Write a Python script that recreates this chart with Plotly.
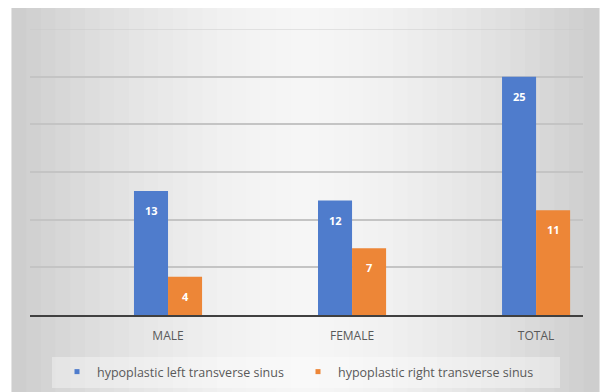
import plotly.graph_objects as go

categories = ["MALE", "FEMALE", "TOTAL"]
left_sinus = [13, 12, 25]
right_sinus = [4, 7, 11]
series_names = ["hypoplastic left transverse sinus", "hypoplastic right transverse sinus"]
grid_vals = [5, 10, 15, 20, 25]

BLUE = "#4f7ccc"
ORANGE = "#ed8637"
FONT = "Open Sans"

fig = go.Figure()
for vals, nm, col in [(left_sinus, series_names[0], BLUE), (right_sinus, series_names[1], ORANGE)]:
    fig.add_trace(go.Bar(x=categories, y=vals, name=nm, marker_color=col,
                         marker_line_width=0, showlegend=False))
# legend-only entries with small square markers
for nm, col in zip(series_names, [BLUE, ORANGE]):
    fig.add_trace(go.Scatter(x=[None], y=[None], mode="markers", name=nm,
                             marker=dict(symbol="square", size=5, color=col)))

# data labels inside bar tops
annotations = []
for vals, shift in [(left_sinus, -17), (right_sinus, 17)]:
    for c, v in zip(categories, vals):
        annotations.append(dict(x=c, y=v, xref="x", yref="y", text=f"<b>{v}</b>",
                                showarrow=False, yanchor="top", yshift=-10, xshift=shift,
                                font=dict(color="white", size=11, family=FONT)))

PH = 286  # plot height in px
shapes = []
x0, x1 = 12, 599
n = 40
for i in range(n):
    t = (i + 0.5) / n
    d = abs(t - 0.5) * 2
    v = int(round(246 - 42 * d ** 1.6))
    shapes.append(dict(type="rect", xref="paper", yref="paper", layer="below",
                       x0=(x0 + (x1 - x0) * i / n - 30) / 553 - 0.001,
                       x1=(x0 + (x1 - x0) * (i + 1) / n - 30) / 553 + 0.001,
                       y0=-(392 - 315) / PH, y1=(315 - 8) / PH,
                       fillcolor=f"rgb({v},{v},{v})", line_width=0))
shapes.append(dict(type="line", xref="paper", yref="y", x0=0, x1=1, y0=30, y1=30,
                   line=dict(color="rgba(200,200,200,0.6)", width=1.5), layer="below"))
shapes.append(dict(type="rect", xref="paper", yref="paper",
                   x0=(52 - 30) / 553, x1=(560 - 30) / 553,
                   y0=-(388 - 315) / PH, y1=-(357 - 315) / PH,
                   fillcolor="rgba(255,255,255,0.35)", line_width=0, layer="below"))

fig.update_layout(
    width=602, height=392,
    margin=dict(l=30, r=19, t=29, b=77, autoexpand=False),
    paper_bgcolor="white", plot_bgcolor="rgba(0,0,0,0)",
    barmode="group", bargap=0.63, bargroupgap=0,
    font=dict(family=FONT, color="#595959", size=12),
    shapes=shapes, annotations=annotations,
    legend=dict(orientation="h", x=(57 - 30) / 553, xanchor="left", y=-(372 - 315) / PH,
                yanchor="middle", bgcolor="rgba(0,0,0,0)",
                font=dict(size=12.5, color="#595959", family=FONT),
                itemwidth=30, entrywidth=196, entrywidthmode="pixels", tracegroupgap=0),
    xaxis=dict(range=[-0.75, 2.255], showgrid=False, showline=True, linecolor="#404040",
               linewidth=2, ticks="outside", ticklen=9, tickcolor="rgba(0,0,0,0)",
               tickfont=dict(size=12, color="#595959", family=FONT), zeroline=False),
    yaxis=dict(range=[0, 30], tickvals=grid_vals, showticklabels=False, showgrid=True,
               gridcolor="#c4c4c4", gridwidth=1.5, zeroline=False, showline=False),
)

fig.write_html("out.html")
